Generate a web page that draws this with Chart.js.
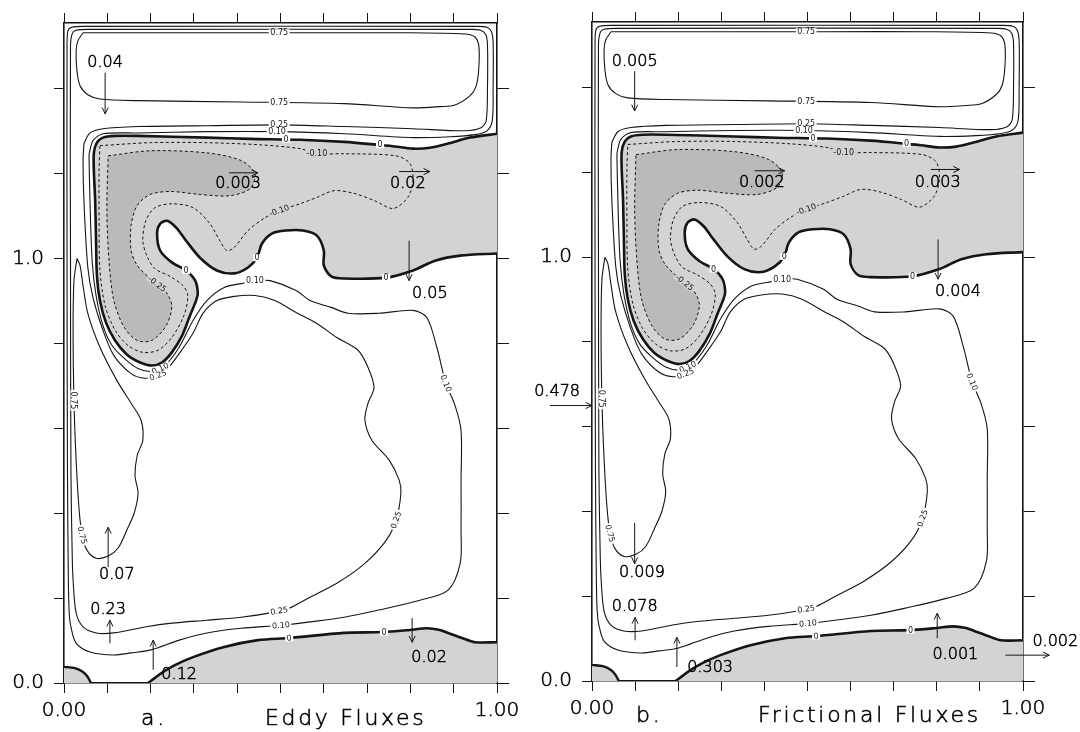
<!DOCTYPE html>
<html>
<head>
<meta charset="utf-8">
<title>Eddy and frictional fluxes</title>
<script src="https://cdn.jsdelivr.net/npm/chart.js@4.4.1/dist/chart.umd.min.js"></script>
<style>
  html, body { margin: 0; padding: 0; background: #fff; }
  #stage { position: relative; width: 1080px; height: 732px; overflow: hidden; background: #fff; }
  #stage canvas { position: absolute; top: 0; }
</style>
</head>
<body>
<div id="stage">
  <canvas id="panelA" width="540" height="732" style="left:0px"></canvas>
  <canvas id="panelB" width="580" height="732" style="left:500px"></canvas>
</div>
<script>
// ---------- axes ----------
const X_MIN = 0, X_MAX = 1, Y_MIN = 0, Y_MAX = 1.555;
const xTickValues = [0, 0.1, 0.2, 0.3, 0.4, 0.5, 0.6, 0.7, 0.8, 0.9, 1.0];
const yTickValues = [0, 0.2, 0.4, 0.6, 0.8, 1.0, 1.2, 1.4];
const xLabelledValues = [0, 1];
const xTickLabels = ['0.00', '1.00'];
const yLabelledValues = [0, 1];
const yTickLabels = ['0.0', '1.0'];

// ---------- streamfunction contours (x, y) ----------
// upper cell, 0.75
const c075Top = [[0.044,1.532],[0.314,1.532],[0.545,1.532],[0.776,1.532],[0.926,1.529],[0.949,1.522],[0.958,1.501],[0.958,1.449],[0.952,1.407],[0.938,1.384],[0.903,1.362],[0.868,1.358],[0.806,1.355],[0.647,1.365],[0.409,1.369],[0.171,1.372],[0.083,1.376],[0.055,1.386],[0.037,1.407],[0.030,1.442],[0.028,1.489],[0.032,1.513]];
// western boundary tongue, 0.75
const c075West = [[0.030,1.000],[0.023,0.948],[0.021,0.831],[0.023,0.666],[0.028,0.525],[0.035,0.407],[0.042,0.348],[0.053,0.313],[0.074,0.294],[0.102,0.299],[0.125,0.318],[0.145,0.360],[0.162,0.400],[0.171,0.447],[0.164,0.489],[0.169,0.536],[0.182,0.572],[0.178,0.619],[0.155,0.659],[0.122,0.713],[0.083,0.791],[0.055,0.871],[0.044,0.936],[0.037,0.984]];
// 0.10
const c010 = [[0.058,1.247],[0.067,1.278],[0.090,1.294],[0.171,1.296],[0.330,1.299],[0.492,1.299],[0.647,1.294],[0.806,1.285],[0.891,1.287],[0.949,1.292],[0.977,1.301],[0.989,1.325],[0.991,1.400],[0.991,1.510],[0.987,1.535],[0.977,1.545],[0.950,1.547],[0.050,1.547],[0.018,1.545],[0.009,1.536],[0.007,1.500],[0.007,1.000],[0.008,0.500],[0.010,0.250],[0.012,0.165],[0.016,0.132],[0.028,0.094],[0.060,0.073],[0.115,0.066],[0.155,0.071],[0.201,0.078],[0.266,0.101],[0.330,0.118],[0.409,0.129],[0.501,0.136],[0.568,0.144],[0.647,0.155],[0.727,0.172],[0.822,0.195],[0.887,0.219],[0.915,0.282],[0.917,0.360],[0.917,0.478],[0.917,0.595],[0.903,0.654],[0.882,0.706],[0.861,0.791],[0.838,0.861],[0.806,0.878],[0.727,0.871],[0.656,0.871],[0.617,0.885],[0.568,0.901],[0.536,0.925],[0.476,0.948],[0.448,0.948],[0.409,0.941],[0.370,0.932],[0.330,0.901],[0.298,0.854],[0.266,0.791],[0.233,0.748],[0.203,0.734],[0.171,0.741],[0.139,0.765],[0.111,0.795],[0.090,0.842],[0.074,0.913],[0.065,0.995],[0.060,1.136],[0.058,1.231]];
// 0.25
const c025 = [[0.046,1.271],[0.060,1.296],[0.090,1.306],[0.171,1.311],[0.330,1.313],[0.497,1.315],[0.647,1.311],[0.806,1.306],[0.926,1.301],[0.963,1.308],[0.975,1.325],[0.978,1.400],[0.978,1.505],[0.974,1.528],[0.962,1.538],[0.940,1.540],[0.060,1.540],[0.028,1.538],[0.019,1.530],[0.015,1.500],[0.015,1.000],[0.016,0.500],[0.019,0.300],[0.021,0.242],[0.028,0.165],[0.044,0.132],[0.074,0.118],[0.115,0.118],[0.187,0.132],[0.249,0.141],[0.330,0.148],[0.409,0.155],[0.487,0.167],[0.520,0.176],[0.568,0.202],[0.630,0.235],[0.695,0.282],[0.744,0.336],[0.767,0.384],[0.778,0.447],[0.774,0.478],[0.751,0.525],[0.711,0.572],[0.695,0.619],[0.702,0.659],[0.716,0.696],[0.702,0.744],[0.679,0.784],[0.630,0.814],[0.584,0.847],[0.536,0.873],[0.487,0.901],[0.441,0.913],[0.393,0.911],[0.353,0.901],[0.321,0.871],[0.298,0.824],[0.266,0.776],[0.242,0.744],[0.217,0.725],[0.187,0.718],[0.155,0.729],[0.115,0.772],[0.090,0.831],[0.067,0.908],[0.055,0.979],[0.046,1.136],[0.044,1.231]];
// zero line bounding the upper negative cell
const c0Upper = [[1.000,1.294],[0.938,1.285],[0.887,1.271],[0.845,1.261],[0.806,1.259],[0.764,1.264],[0.727,1.268],[0.647,1.275],[0.545,1.280],[0.430,1.282],[0.330,1.285],[0.171,1.289],[0.118,1.289],[0.090,1.285],[0.076,1.273],[0.069,1.249],[0.069,1.207],[0.072,1.136],[0.074,1.042],[0.076,0.960],[0.083,0.901],[0.097,0.849],[0.118,0.807],[0.145,0.774],[0.176,0.755],[0.203,0.748],[0.226,0.755],[0.249,0.779],[0.273,0.819],[0.291,0.866],[0.305,0.901],[0.309,0.918],[0.303,0.948],[0.282,0.972],[0.249,0.991],[0.222,1.019],[0.215,1.059],[0.222,1.082],[0.238,1.089],[0.259,1.073],[0.282,1.042],[0.314,1.002],[0.353,0.972],[0.393,0.965],[0.425,0.979],[0.446,1.002],[0.457,1.035],[0.480,1.059],[0.513,1.066],[0.552,1.066],[0.584,1.054],[0.600,1.019],[0.600,0.984],[0.617,0.958],[0.647,0.953],[0.744,0.955],[0.806,0.972],[0.857,0.995],[0.915,1.007],[1.000,1.012]];
// -0.10
const cm010 = [[0.083,1.266],[0.199,1.273],[0.330,1.273],[0.453,1.268],[0.545,1.259],[0.584,1.247],[0.647,1.247],[0.767,1.242],[0.799,1.224],[0.806,1.184],[0.794,1.144],[0.760,1.118],[0.718,1.136],[0.672,1.153],[0.624,1.160],[0.584,1.144],[0.545,1.129],[0.503,1.115],[0.464,1.096],[0.425,1.066],[0.393,1.026],[0.376,1.019],[0.360,1.042],[0.337,1.082],[0.298,1.120],[0.249,1.129],[0.210,1.120],[0.189,1.089],[0.182,1.042],[0.192,1.005],[0.210,0.976],[0.245,0.958],[0.275,0.936],[0.286,0.913],[0.277,0.866],[0.249,0.814],[0.217,0.784],[0.182,0.779],[0.148,0.795],[0.118,0.831],[0.095,0.889],[0.083,0.972],[0.081,1.089],[0.081,1.207]];
// -0.25
const cm025 = [[0.102,1.242],[0.199,1.254],[0.330,1.249],[0.409,1.231],[0.441,1.200],[0.430,1.165],[0.383,1.148],[0.314,1.151],[0.245,1.158],[0.199,1.151],[0.169,1.125],[0.155,1.078],[0.155,1.019],[0.169,0.984],[0.199,0.953],[0.233,0.925],[0.249,0.889],[0.236,0.842],[0.203,0.807],[0.169,0.807],[0.139,0.838],[0.115,0.901],[0.104,0.995],[0.099,1.113]];
// zero line of the bottom negative cell and the small corner cell
const c0Bottom = [[0.194,0.000],[0.210,0.012],[0.226,0.024],[0.256,0.042],[0.298,0.061],[0.370,0.085],[0.448,0.101],[0.520,0.106],[0.647,0.118],[0.734,0.120],[0.799,0.125],[0.838,0.129],[0.868,0.125],[0.887,0.118],[0.919,0.106],[0.949,0.096],[1.000,0.096]];
const c0Corner = [[0.000,0.038],[0.025,0.035],[0.044,0.026],[0.055,0.014],[0.062,0.000]];

// ---------- contour labels (x, y, text) ----------
const contourLabels = [
  [0.497,1.532,'0.75'],[0.497,1.367,'0.75'],[0.497,1.316,'0.25'],[0.492,1.299,'0.10'],[0.513,1.281,'0'],
  [0.730,1.268,'0'],[0.584,1.247,'-0.10'],[0.497,1.113,'-0.10'],[0.215,0.940,'-0.25'],
  [0.446,1.002,'0'],[0.282,0.972,'0'],[0.744,0.955,'0'],[0.441,0.948,'0.10'],
  [0.222,0.741,'0.10'],[0.217,0.725,'0.25'],
  [0.023,0.666,'0.75'],[0.042,0.348,'0.75'],[0.882,0.706,'0.10'],[0.767,0.384,'0.25'],
  [0.497,0.170,'0.25'],[0.501,0.136,'0.10'],[0.520,0.106,'0'],[0.739,0.120,'0']
];
const contourLabelAngles = [0,0,0,0,0, 0,0,-20,38, 0,0,0,0, -25,-20, 90,75,68,-70, -8,-5,-5,0];

// ---------- flux values and arrows, panel a ----------
const fluxA = [[0.095,1.461,'0.04'],[0.402,1.176,'0.003'],[0.794,1.176,'0.02'],[0.845,0.918,'0.05'],[0.122,0.254,'0.07'],[0.102,0.172,'0.23'],[0.266,0.019,'0.12'],[0.843,0.059,'0.02']];
const arrowsA = [[0.095,1.438,0.095,1.341],[0.381,1.202,0.448,1.202],[0.774,1.205,0.845,1.205],[0.797,1.042,0.797,0.948],[0.102,0.273,0.102,0.367],[0.106,0.094,0.106,0.148],[0.206,0.031,0.206,0.101],[0.804,0.153,0.804,0.096]];
const captionA = [[0.178,-0.099,'a.'],[0.464,-0.099,'Eddy Fluxes']];

// ---------- flux values and arrows, panel b ----------
const fluxB = [[0.099,1.462,'0.005'],[0.394,1.176,'0.002'],[0.802,1.176,'0.003'],[0.849,0.918,'0.004'],[-0.081,0.683,'0.478'],[0.116,0.256,'0.009'],[0.099,0.174,'0.078'],[0.274,0.031,'0.303'],[0.843,0.061,'0.001'],[1.075,0.092,'0.002']];
const arrowsB = [[0.099,1.439,0.099,1.345],[0.377,1.204,0.447,1.204],[0.786,1.207,0.853,1.207],[0.803,1.042,0.803,0.948],[-0.098,0.650,0.000,0.650],[0.099,0.373,0.099,0.277],[0.100,0.096,0.100,0.150],[0.197,0.033,0.197,0.103],[0.801,0.101,0.801,0.160],[0.959,0.061,1.061,0.061]];
const captionB = [[0.102,-0.096,'b.'],[0.385,-0.096,'Frictional Fluxes']];

// ---------- drawing ----------
const INK = '#151515';
const TEXT_INK = '#000';
const GREY_LIGHT = '#d3d3d3';
const GREY_DARK = '#bababa';
const FONT = '"DejaVu Sans", "Liberation Sans", sans-serif';
const LIGHT = '200';
const TEXT_STROKE = 0.55;

const xy = pts => pts.map(p => ({ x: p[0], y: p[1] }));
const closeLoop = pts => pts.concat([pts[0]]);

function contourLine(pts, width, dash, order) {
  return { data: xy(pts), showLine: true, fill: false, borderColor: INK, borderWidth: width,
           borderDash: dash || [], pointRadius: 0, pointHoverRadius: 0, tension: 0.3, order };
}
function shadedArea(pts, color, order, tension) {
  return { data: xy(pts), showLine: true, fill: 'shape', backgroundColor: color,
           borderColor: 'rgba(0,0,0,0)', borderWidth: 0, pointRadius: 0, pointHoverRadius: 0,
           tension, order };
}

function buildDatasets() {
  return [
    shadedArea(c0Upper, GREY_LIGHT, 20, 0.3),
    shadedArea(c0Bottom.concat([[X_MAX, Y_MIN]]), GREY_LIGHT, 20, 0),
    shadedArea(c0Corner.concat([[X_MIN, Y_MIN]]), GREY_LIGHT, 20, 0),
    shadedArea(cm025, GREY_DARK, 19, 0.3),
    contourLine(closeLoop(c075Top), 1.1, null, 10),
    contourLine(closeLoop(c075West), 1.1, null, 10),
    contourLine(closeLoop(c010), 1.1, null, 10),
    contourLine(closeLoop(c025), 1.1, null, 10),
    contourLine(closeLoop(cm010), 1, [3, 2.5], 9),
    contourLine(closeLoop(cm025), 1, [3, 2.5], 9),
    contourLine(c0Upper, 2.6, null, 5),
    contourLine(c0Bottom, 2.6, null, 5),
    contourLine(c0Corner, 2.4, null, 5)
  ];
}

function annotator(fluxes, arrows, captions) {
  const write = (ctx, text, x, y) => { ctx.strokeText(text, x, y); ctx.fillText(text, x, y); };
  return {
    id: 'annotator',
    afterDatasetsDraw(chart) {
      const { ctx, chartArea } = chart;
      const sx = chart.scales.x, sy = chart.scales.y;
      ctx.save();
      ctx.beginPath();
      ctx.rect(chartArea.left, chartArea.top, chartArea.right - chartArea.left, chartArea.bottom - chartArea.top);
      ctx.clip();
      ctx.font = '8px ' + FONT;
      ctx.textAlign = 'center';
      ctx.textBaseline = 'middle';
      contourLabels.forEach((l, i) => {
        const px = sx.getPixelForValue(l[0]), py = sy.getPixelForValue(l[1]);
        ctx.save();
        ctx.translate(px, py);
        ctx.rotate(contourLabelAngles[i] * Math.PI / 180);
        const w = ctx.measureText(l[2]).width + 3;
        ctx.fillStyle = l[2].charAt(0) === '-' ? GREY_LIGHT : '#fff';
        ctx.fillRect(-w / 2, -3.5, w, 7);
        ctx.fillStyle = INK;
        ctx.fillText(l[2], 0, 0.5);
        ctx.restore();
      });
      ctx.restore();
    },
    afterDraw(chart) {
      const { ctx } = chart;
      const sx = chart.scales.x, sy = chart.scales.y;
      ctx.save();
      ctx.strokeStyle = INK;
      ctx.lineWidth = 1;
      arrows.forEach(a => {
        const x1 = sx.getPixelForValue(a[0]), y1 = sy.getPixelForValue(a[1]);
        const x2 = sx.getPixelForValue(a[2]), y2 = sy.getPixelForValue(a[3]);
        const ang = Math.atan2(y2 - y1, x2 - x1), h = 7, spread = 0.45;
        ctx.beginPath();
        ctx.moveTo(x1, y1); ctx.lineTo(x2, y2);
        ctx.moveTo(x2 - h * Math.cos(ang - spread), y2 - h * Math.sin(ang - spread));
        ctx.lineTo(x2, y2);
        ctx.lineTo(x2 - h * Math.cos(ang + spread), y2 - h * Math.sin(ang + spread));
        ctx.stroke();
      });
      ctx.fillStyle = TEXT_INK;
      ctx.strokeStyle = TEXT_INK;
      ctx.lineWidth = TEXT_STROKE;
      ctx.font = LIGHT + ' 16px ' + FONT;
      ctx.textAlign = 'center';
      ctx.textBaseline = 'middle';
      fluxes.forEach(f => write(ctx, f[2], sx.getPixelForValue(f[0]), sy.getPixelForValue(f[1])));
      ctx.font = LIGHT + ' 22px ' + FONT;
      ctx.textAlign = 'left';
      ctx.textBaseline = 'alphabetic';
      ctx.letterSpacing = '2.7px';
      captions.forEach(c => write(ctx, c[2], sx.getPixelForValue(c[0]), sy.getPixelForValue(c[1])));
      ctx.restore();
    }
  };
}

function axis(axisName, position, values, labelledValues, labels, size, tickLength, pad) {
  const horizontal = axisName === 'x';
  return {
    type: 'linear', axis: axisName, position,
    min: horizontal ? X_MIN : Y_MIN, max: horizontal ? X_MAX : Y_MAX,
    afterBuildTicks: s => { s.ticks = values.map(v => ({ value: v })); },
    afterFit: s => { if (horizontal) s.height = size; else s.width = size; },
    ticks: {
      autoSkip: false, maxRotation: 0, minRotation: 0, padding: pad, color: TEXT_INK,
      textStrokeColor: TEXT_INK, textStrokeWidth: TEXT_STROKE,
      font: { family: FONT, size: 20, weight: LIGHT },
      callback: v => {
        const i = labelledValues.findIndex(t => Math.abs(t - v) < 1e-9);
        return i >= 0 ? labels[i] : '';
      }
    },
    grid: { drawOnChartArea: false, drawTicks: true, tickLength, color: INK, lineWidth: 1 },
    border: { display: true, color: INK, width: 1.6 }
  };
}

function makePanel(id, pad, bottomH, fluxes, arrows, captions) {
  return new Chart(document.getElementById(id), {
    type: 'scatter',
    data: { datasets: buildDatasets() },
    options: {
      responsive: false, animation: false, devicePixelRatio: 1, events: [],
      layout: { padding: pad },
      plugins: { legend: { display: false }, tooltip: { enabled: false } },
      scales: {
        x: axis('x', 'bottom', xTickValues, xLabelledValues, xTickLabels, bottomH, 10, 6),
        xTop: axis('x', 'top', xTickValues, [], [], 15, 10, 0),
        y: axis('y', 'left', yTickValues, yLabelledValues, yTickLabels, 64, 10, 10),
        yRight: axis('y', 'right', yTickValues, [], [], 25, 12, 0)
      }
    },
    plugins: [annotator(fluxes, arrows, captions)]
  });
}

makePanel('panelA', { left: 0, right: 18, top: 8, bottom: 0 }, 49, fluxA, arrowsA, captionA);
makePanel('panelB', { left: 28, right: 32, top: 3, bottom: 0 }, 51, fluxB, arrowsB, captionB);
</script>
</body>
</html>
